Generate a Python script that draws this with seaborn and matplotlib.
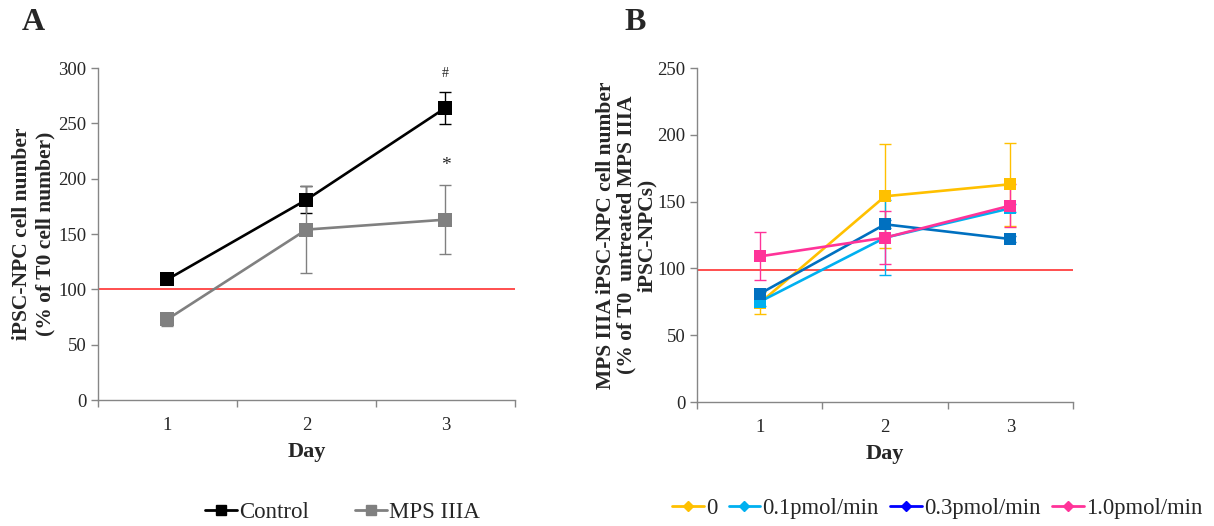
import numpy as np
import pandas as pd
import matplotlib
matplotlib.use("Agg")
import matplotlib.pyplot as plt
import seaborn as sns
from matplotlib.lines import Line2D

# Panel A data
days = [1, 2, 3]
control = [109, 181, 264]
control_err = [2, 12, 14.5]
mps = [73, 154, 163]
mps_err = [6, 39, 31]

# Panel B data
doses = ["0", "0.1pmol/min", "0.3pmol/min", "1.0pmol/min"]
dose_vals = {
    "0": [74, 154, 163],
    "0.1pmol/min": [75, 123, 145],
    "0.3pmol/min": [81, 133, 122],
    "1.0pmol/min": [109, 123, 147],
}
dose_err = {
    "0": [8, 39, 31],
    "0.1pmol/min": [3, 28, 3],
    "0.3pmol/min": [2, 3, 2],
    "1.0pmol/min": [18, 20, 16],
}
dose_colors = {
    "0": "#FFC000",
    "0.1pmol/min": "#00B0F0",
    "0.3pmol/min": "#0070C0",
    "1.0pmol/min": "#FF3399",
}
legend_colors_b = ["#FFC000", "#00B0F0", "#0000FF", "#FF3399"]

sns.set_style("ticks")
plt.rcParams['font.family'] = ['Liberation Serif', 'DejaVu Serif']

fig = plt.figure(figsize=(12.14, 5.26), dpi=100)
axA = fig.add_axes([0.0807, 0.2395, 0.3435, 0.6312])
axB = fig.add_axes([0.5741, 0.2357, 0.3098, 0.635])

df_a = pd.DataFrame({
    "Day": days * 2,
    "value": control + mps,
    "group": ["Control"] * 3 + ["MPS IIIA"] * 3,
})
pal_a = {"Control": "black", "MPS IIIA": "#808080"}

axA.axhline(100, color="#FF4040", lw=1.3, zorder=1)
axA.errorbar(days, control, yerr=control_err, fmt="none", ecolor="black",
             elinewidth=1, capsize=4, capthick=1, zorder=2)
axA.errorbar(days, mps, yerr=mps_err, fmt="none", ecolor="#808080",
             elinewidth=1, capsize=4, capthick=1, zorder=2)
sns.lineplot(data=df_a, x="Day", y="value", hue="group", style="group",
             palette=pal_a, markers={"Control": "s", "MPS IIIA": "s"},
             dashes=False, markersize=9.5, markeredgewidth=0, linewidth=1.9,
             legend=False, ax=axA, zorder=3)
axA.text(3, 295, "#", ha="center", va="center", fontsize=10)
axA.text(3, 212, "*", ha="center", va="center", fontsize=14)

rows = []
for d in doses:
    for day, v in zip(days, dose_vals[d]):
        rows.append({"Day": day, "value": v, "dose": d})
df_b = pd.DataFrame(rows)

axB.axhline(99, color="#FF4040", lw=1.3, zorder=1)
for d in doses:
    axB.errorbar(days, dose_vals[d], yerr=dose_err[d], fmt="none",
                 ecolor=dose_colors[d], elinewidth=1, capsize=4, capthick=1, zorder=2)
sns.lineplot(data=df_b, x="Day", y="value", hue="dose", style="dose",
             palette=dose_colors, markers={d: "s" for d in doses},
             dashes=False, markersize=9, markeredgewidth=0, linewidth=1.9,
             legend=False, ax=axB, zorder=3)

for ax, ymax in [(axA, 300), (axB, 250)]:
    ax.set_xlim(0.5, 3.5)
    ax.set_ylim(0, ymax)
    ax.set_yticks(np.arange(0, ymax + 1, 50))
    ax.set_xticks(days)
    ax.set_xticks([0.5, 1.5, 2.5, 3.5], minor=True)
    ax.tick_params(axis="x", which="major", length=0, labelsize=13.5, pad=12)
    ax.tick_params(axis="x", which="minor", length=5, color="#868686", width=1)
    ax.tick_params(axis="y", length=5, color="#868686", width=1, labelsize=13.5)
    for s in ["top", "right"]:
        ax.spines[s].set_visible(False)
    for s in ["left", "bottom"]:
        ax.spines[s].set_color("#868686")
        ax.spines[s].set_linewidth(1)
    ax.set_xlabel("Day", fontsize=16, fontweight="bold", labelpad=6)

axA.set_ylabel("iPSC-NPC cell number\n(% of T0 cell number)", fontsize=15.5,
               fontweight="bold", labelpad=2, linespacing=1.25)
axB.set_ylabel("MPS IIIA iPSC-NPC cell number\n(% of T0  untreated MPS IIIA\niPSC-NPCs)",
               fontsize=15.5, fontweight="bold", labelpad=0, linespacing=1.03)

fig.text(0.018, 0.958, "A", fontsize=23, fontweight="bold", va="center")
fig.text(0.514, 0.958, "B", fontsize=23, fontweight="bold", va="center")

handles_a = [Line2D([], [], color=pal_a[g], marker="s", markersize=7, lw=2)
             for g in ["Control", "MPS IIIA"]]
fig.legend(handles_a, ["Control", "MPS IIIA"], loc="center", ncol=2,
           bbox_to_anchor=(0.282, 0.025), frameon=False, fontsize=16.5,
           handlelength=1.4, handletextpad=0.1, columnspacing=2.0)

handles_b = [Line2D([], [], color=c, marker="D", markersize=5, lw=2)
             for c in legend_colors_b]
fig.legend(handles_b, doses, loc="center", ncol=4,
           bbox_to_anchor=(0.772, 0.034), frameon=False, fontsize=16.3,
           handlelength=1.4, handletextpad=0.1, columnspacing=0.5)

fig.savefig("out.png", dpi=100)
